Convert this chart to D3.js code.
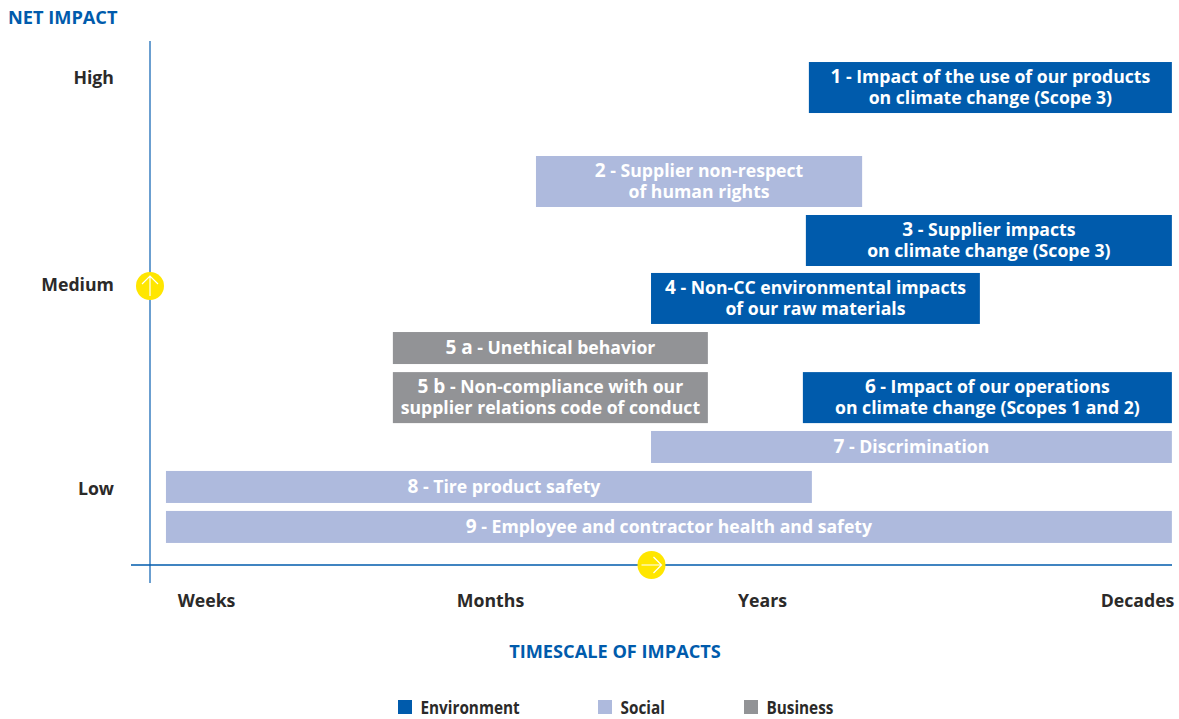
<!DOCTYPE html>
<html>
<head>
<meta charset="utf-8">
<script src="https://cdnjs.cloudflare.com/ajax/libs/d3/7.8.5/d3.min.js"></script>
<style>
  html, body { margin: 0; padding: 0; background: #fff; }
  svg { display: block; }
  text { font-family: "Open Sans", sans-serif; font-weight: 700; font-size: 18px; }
  .axis text { fill: #2b2a29; font-size: 17.7px; }
  .title { fill: #005bac; font-size: 18.2px; }
  .legend { fill: #2b2a29; font-size: 17px; }
  .bar-label { fill: #fff; font-size: 17.65px; }
  .bar-label .id { font-size: 19px; }
</style>
</head>
<body>
<svg id="chart" width="1179" height="719"></svg>
<script>
// Datos
const timeTicks = ["Weeks", "Months", "Years", "Decades"];
const impactTicks = ["Low", "Medium", "High"];
const categories = ["Environment", "Social", "Business"];
const categoryColors = ["#005bac", "#aebadd", "#929396"];

const issueIds = ["1", "2", "3", "4", "5 a", "5 b", "6", "7", "8", "9"];
const issueLines = [
  ["Impact of the use of our products", "on climate change (Scope 3)"],
  ["Supplier non-respect", "of human rights"],
  ["Supplier impacts", "on climate change (Scope 3)"],
  ["Non-CC environmental impacts", "of our raw materials"],
  ["Unethical behavior"],
  ["Non-compliance with our", "supplier relations code of conduct"],
  ["Impact of our operations", "on climate change (Scopes 1 and 2)"],
  ["Discrimination"],
  ["Tire product safety"],
  ["Employee and contractor health and safety"]
];
const issueCategory = ["Environment", "Social", "Environment", "Environment", "Business", "Business", "Environment", "Social", "Social", "Social"];
// inicio y fin en la escala de tiempo (0 = Weeks ... 3 = Decades)
const issueStart = [2.125, 1.169, 2.117, 1.592, 0.658, 0.658, 2.109, 1.592, -0.141, -0.141];
const issueEnd = [3.093, 2.267, 3.093, 2.581, 1.801, 1.801, 3.093, 3.093, 2.133, 3.093];
// impacto neto (0 = Low, 1 = Medium, 2 = High)
const issueImpact = [1.954, 1.5, 1.215, 0.934, 0.691, 0.448, 0.448, 0.206, 0.01, -0.186];

const svg = d3.select("#chart");

const x = d3.scaleLinear().domain([0, 1, 2, 3]).range([206, 490, 762, 1137]);
const y = d3.scaleLinear().domain([0, 1, 2]).range([489, 285, 78]);
const color = d3.scaleOrdinal().domain(categories).range(categoryColors);

const lineGap = 21;
const barHeight = (n) => (n === 1 ? 32 : 51);

// Barras
const rows = issueIds.map((id, i) => ({
  id,
  lines: issueLines[i],
  category: issueCategory[i],
  start: issueStart[i],
  end: issueEnd[i],
  impact: issueImpact[i]
}));

const bars = svg.append("g").selectAll("g").data(rows).enter().append("g");

bars.append("rect")
  .attr("x", (d) => x(d.start))
  .attr("width", (d) => x(d.end) - x(d.start))
  .attr("y", (d) => y(d.impact) - barHeight(d.lines.length) / 2)
  .attr("height", (d) => barHeight(d.lines.length))
  .attr("fill", (d) => color(d.category));

bars.each(function (d) {
  // la etiqueta 8 no esta centrada en su barra
  const cx = (x(d.start) + x(d.end)) / 2 + (d.id === "8" ? 15 : 0);
  const top = y(d.impact) - (d.lines.length - 1) / 2 * lineGap + 6.3;
  const t = d3.select(this).append("text")
    .attr("class", "bar-label")
    .attr("text-anchor", "middle");
  t.append("tspan").attr("class", "id").attr("x", cx).attr("y", top).text(d.id);
  t.append("tspan").text(" - " + d.lines[0]);
  if (d.lines.length > 1) {
    t.append("tspan").attr("x", cx).attr("y", top + lineGap).text(d.lines[1]);
  }
});

// Ejes
const yAxis = d3.axisLeft(y).tickValues([0, 1, 2]).tickSize(0).tickPadding(36)
  .tickFormat((d) => impactTicks[d]);
svg.append("g").attr("class", "axis").attr("transform", "translate(150,0)").call(yAxis)
  .call((g) => g.select(".domain").remove());

const xAxis = d3.axisBottom(x).tickValues([0, 1, 2, 3]).tickSize(0).tickPadding(26)
  .tickFormat((d) => timeTicks[d]);
svg.append("g").attr("class", "axis").attr("transform", "translate(0,568)").call(xAxis)
  .call((g) => g.select(".domain").remove());

svg.append("line").attr("x1", 150).attr("x2", 150).attr("y1", 41).attr("y2", 583)
  .attr("stroke", "#3a7fc1").attr("stroke-width", 1.5);
svg.append("line").attr("x1", 131).attr("x2", 1172).attr("y1", 565).attr("y2", 565)
  .attr("stroke", "#005bac").attr("stroke-width", 1.5);

// Flechas amarillas
function arrowBadge(cx, cy, angle) {
  const g = svg.append("g").attr("transform", `translate(${cx},${cy}) rotate(${angle})`);
  g.append("circle").attr("r", 14).attr("fill", "#ffe600");
  g.append("path").attr("d", "M0,10V-10M-8,-2L0,-10L8,-2")
    .attr("fill", "none").attr("stroke", "#fff").attr("stroke-width", 1.2);
}
arrowBadge(150, 286, 0);
arrowBadge(651.5, 565, 90);

// Titulos
svg.append("text").attr("class", "title").attr("x", 8).attr("y", 24).text("NET IMPACT");
svg.append("text").attr("class", "title").attr("x", 615).attr("y", 658)
  .attr("text-anchor", "middle").text("TIMESCALE OF IMPACTS");

// Leyenda
const legendX = [398, 598, 744];
const legend = svg.append("g").selectAll("g").data(categories).enter().append("g")
  .attr("transform", (d, i) => `translate(${legendX[i]},700)`);
legend.append("rect").attr("width", 14).attr("height", 14).attr("fill", (d) => color(d));
legend.append("text").attr("class", "legend").attr("transform", "translate(22.5,14) scale(0.9,1)").text((d) => d);
</script>
</body>
</html>
